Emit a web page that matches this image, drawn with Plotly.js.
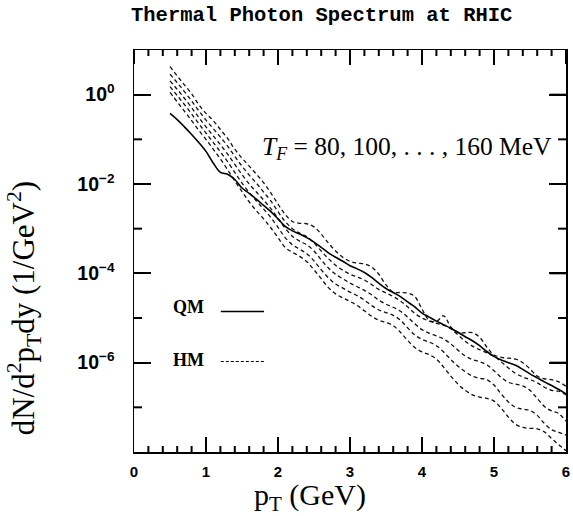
<!DOCTYPE html>
<html><head><meta charset="utf-8">
<script src="https://cdn.plot.ly/plotly-3.0.1.min.js"></script>
<style>body{margin:0;background:#fff}</style>
</head><body><div id="chart" style="width:573px;height:516px"></div>
<script>
// transverse momentum grid (GeV)
const pT = [0.5,0.6,0.7,0.8,0.9,1.0,1.1,1.2,1.3,1.4,1.5,1.6,1.7,1.8,1.9,2.0,2.1,2.2,2.3,2.4,2.5,2.6,2.7,2.8,2.9,3.0,3.1,3.2,3.3,3.4,3.5,3.6,3.7,3.8,3.9,4.0,4.1,4.2,4.3,4.4,4.5,4.6,4.7,4.8,4.9,5.0,5.1,5.2,5.3,5.4,5.5,5.6,5.7,5.8,5.9,6.0];
// log10 of dN/d^2pT dy
const qmLog = [-0.42,-0.56,-0.72,-0.89,-1.07,-1.27,-1.53,-1.74,-1.78,-1.90,-2.09,-2.21,-2.34,-2.48,-2.62,-2.78,-2.95,-3.05,-3.12,-3.20,-3.30,-3.42,-3.54,-3.64,-3.73,-3.83,-3.90,-3.98,-4.09,-4.22,-4.34,-4.43,-4.52,-4.64,-4.75,-4.89,-4.98,-5.07,-5.15,-5.23,-5.32,-5.42,-5.51,-5.62,-5.75,-5.86,-5.94,-6.00,-6.06,-6.15,-6.25,-6.34,-6.43,-6.51,-6.60,-6.70];
const hm80Log = [0.63,0.42,0.22,0.02,-0.22,-0.42,-0.58,-0.78,-0.98,-1.22,-1.42,-1.60,-1.78,-1.97,-2.20,-2.45,-2.68,-2.84,-2.88,-2.89,-2.96,-3.12,-3.32,-3.50,-3.64,-3.73,-3.77,-3.79,-3.86,-4.02,-4.26,-4.42,-4.43,-4.44,-4.52,-4.80,-5.05,-5.08,-4.95,-5.20,-5.33,-5.33,-5.33,-5.43,-5.65,-5.83,-5.88,-5.90,-5.92,-6.00,-6.14,-6.30,-6.36,-6.38,-6.43,-6.53];
const hm100Log = [0.46,0.27,0.07,-0.14,-0.36,-0.57,-0.76,-0.95,-1.15,-1.38,-1.60,-1.80,-1.98,-2.18,-2.38,-2.62,-2.84,-3.00,-3.10,-3.18,-3.32,-3.50,-3.67,-3.82,-3.93,-4.02,-4.08,-4.15,-4.25,-4.36,-4.44,-4.52,-4.62,-4.75,-4.90,-5.00,-5.07,-5.12,-5.16,-5.24,-5.38,-5.52,-5.63,-5.71,-5.78,-5.86,-5.98,-6.12,-6.24,-6.32,-6.38,-6.45,-6.55,-6.62,-6.64,-6.72];
const hm120Log = [0.31,0.12,-0.08,-0.29,-0.51,-0.72,-0.92,-1.12,-1.33,-1.56,-1.79,-2.00,-2.18,-2.36,-2.55,-2.77,-2.99,-3.17,-3.28,-3.36,-3.50,-3.70,-3.88,-4.02,-4.12,-4.22,-4.30,-4.38,-4.48,-4.60,-4.69,-4.76,-4.85,-4.98,-5.13,-5.26,-5.34,-5.40,-5.47,-5.58,-5.72,-5.85,-5.93,-5.98,-6.05,-6.18,-6.33,-6.44,-6.48,-6.52,-6.62,-6.80,-6.98,-7.08,-7.14,-7.31];
const hm140Log = [0.18,-0.02,-0.22,-0.43,-0.65,-0.86,-1.07,-1.28,-1.50,-1.74,-1.98,-2.19,-2.38,-2.56,-2.75,-2.97,-3.20,-3.36,-3.46,-3.56,-3.72,-3.92,-4.10,-4.24,-4.33,-4.42,-4.50,-4.60,-4.72,-4.82,-4.88,-4.94,-5.05,-5.22,-5.38,-5.48,-5.54,-5.62,-5.76,-5.93,-6.08,-6.20,-6.30,-6.35,-6.38,-6.50,-6.70,-6.88,-7.00,-7.04,-7.07,-7.18,-7.36,-7.50,-7.56,-7.62];
const hm160Log = [0.05,-0.16,-0.37,-0.58,-0.80,-1.00,-1.22,-1.44,-1.68,-1.93,-2.17,-2.40,-2.60,-2.78,-2.98,-3.20,-3.42,-3.53,-3.62,-3.74,-3.92,-4.12,-4.32,-4.46,-4.55,-4.63,-4.72,-4.84,-4.96,-5.05,-5.10,-5.17,-5.32,-5.50,-5.66,-5.76,-5.82,-5.92,-6.10,-6.30,-6.48,-6.62,-6.72,-6.77,-6.80,-6.86,-7.02,-7.22,-7.38,-7.45,-7.47,-7.48,-7.55,-7.70,-7.84,-7.97];
const yMajor = [1e-6,1e-4,1e-2,1];
const yMajorText = ['10<sup>−6</sup>','10<sup>−4</sup>','10<sup>−2</sup>','10<sup>0</sup>'];
const yMinor = [1e-7,1e-5,1e-3,1e-1];
const xMajor = [0,1,2,3,4,5,6];
const xMinor = [0.2,0.4,0.6,0.8,1.2,1.4,1.6,1.8,2.2,2.4,2.6,2.8,3.2,3.4,3.6,3.8,4.2,4.4,4.6,4.8,5.2,5.4,5.6,5.8];

const toVal = a => a.map(v => Math.pow(10, v));
const traces = [];
[hm80Log, hm100Log, hm120Log, hm140Log, hm160Log].forEach((arr, i) => {
  traces.push({x: pT, y: toVal(arr), mode: 'lines', type: 'scatter', name: 'HM ' + (80 + 20*i),
    line: {color: '#111', width: 1.3, dash: '4px,3px', shape: 'spline', smoothing: 1}, hoverinfo: 'skip'});
});
traces.push({x: pT, y: toVal(qmLog), mode: 'lines', type: 'scatter', name: 'QM',
  line: {color: '#000', width: 1.6, shape: 'spline', smoothing: 1}, hoverinfo: 'skip'});

// plot-area size in px, used only to convert tick lengths to paper fractions
const plotW = 573 - 134 - 7, plotH = 516 - 50 - 64;
const tickShapes = [];
function tk(xref, yref, x0, x1, y0, y1, w) {
  tickShapes.push({type: 'line', xref: xref, yref: yref, x0: x0, x1: x1, y0: y0, y1: y1,
    line: {color: '#000000', width: w}, layer: 'above'});
}
// minor ticks, bottom and top
xMinor.forEach(v => {
  tk('x', 'paper', v, v, 0, 6 / plotH, 2);
  tk('x', 'paper', v, v, 1, 1 - 6 / plotH, 2);
});
// major ticks, top
xMajor.forEach(v => tk('x', 'paper', v, v, 1, 1 - 14 / plotH, 2));
// minor ticks, left and right
yMinor.forEach(v => {
  tk('paper', 'y', 0, 8 / plotW, v, v, 2);
  tk('paper', 'y', 1, 1 - 8 / plotW, v, v, 2);
});
// major ticks, right
yMajor.forEach(v => tk('paper', 'y', 1, 1 - 16 / plotW, v, v, 2));

const serif = 'Liberation Serif, Times New Roman, serif';
const layout = {
  width: 573, height: 516,
  margin: {l: 134, r: 7, t: 50, b: 64},
  paper_bgcolor: '#fff', plot_bgcolor: '#fff',
  showlegend: false,
  xaxis: {range: [0, 6], tickmode: 'array', tickvals: xMajor, ticks: 'inside', ticklen: 15, tickwidth: 2, tickcolor: '#000',
    showline: true, linewidth: 1.5, linecolor: '#000', mirror: 'ticks', showgrid: false, zeroline: false,
    tickfont: {family: 'Liberation Sans, Arial, sans-serif', size: 15, weight: 'bold', color: '#000'}, ticklabelstandoff: 5},
  yaxis: {type: 'log', range: [-8, 1], tickmode: 'array', tickvals: yMajor, ticktext: yMajorText, ticks: 'inside', ticklen: 17, tickwidth: 2, tickcolor: '#000',
    showline: true, linewidth: 1.5, linecolor: '#000', mirror: 'ticks', showgrid: false, zeroline: false,
    tickfont: {family: 'Liberation Sans, Arial, sans-serif', size: 19.5, weight: 'bold', color: '#000'}, ticklabelstandoff: 14},
  annotations: [
    {text: 'Thermal Photon Spectrum at RHIC', xref: 'paper', yref: 'paper', x: 0.433, y: 1.087, xanchor: 'center', yanchor: 'middle', showarrow: false,
      font: {family: 'Liberation Mono, Courier New, monospace', size: 20.5, weight: 'bold', color: '#000'}},
    {text: 'dN/d<sup>2</sup>p<sub>T</sub>dy (1/GeV<sup>2</sup>)', xref: 'paper', yref: 'paper', x: -0.254, y: 0.358, textangle: -90, xanchor: 'center', yanchor: 'middle', showarrow: false,
      font: {family: serif, size: 31, color: '#000'}},
    {text: 'p<sub>T</sub> (GeV)', xref: 'paper', yref: 'paper', x: 0.407, y: -0.112, xanchor: 'center', yanchor: 'middle', showarrow: false,
      font: {family: serif, size: 30, color: '#000'}},
    {text: '<i>T<sub>F</sub></i> = 80, 100, . . . , 160 MeV', xref: 'paper', yref: 'paper', x: 0.632, y: 0.756, xanchor: 'center', yanchor: 'middle', showarrow: false,
      font: {family: serif, size: 25.5, color: '#000'}},
    {text: 'QM', xref: 'paper', yref: 'paper', x: 0.125, y: 0.361, xanchor: 'center', yanchor: 'middle', showarrow: false,
      font: {family: serif, size: 18, weight: 'bold', color: '#000'}},
    {text: 'HM', xref: 'paper', yref: 'paper', x: 0.125, y: 0.228, xanchor: 'center', yanchor: 'middle', showarrow: false,
      font: {family: serif, size: 18, weight: 'bold', color: '#000'}}
  ],
  shapes: [
    {type: 'line', xref: 'paper', yref: 'paper', x0: 0.201, x1: 0.301, y0: 0.3495, y1: 0.3495, line: {color: '#000', width: 1.3}},
    {type: 'line', xref: 'paper', yref: 'paper', x0: 0.201, x1: 0.303, y0: 0.225, y1: 0.225, line: {color: '#000', width: 1.1, dash: '3px,2px'}}
  ].concat(tickShapes)
};
Plotly.newPlot('chart', traces, layout, {displayModeBar: false, staticPlot: true});
</script></body></html>
